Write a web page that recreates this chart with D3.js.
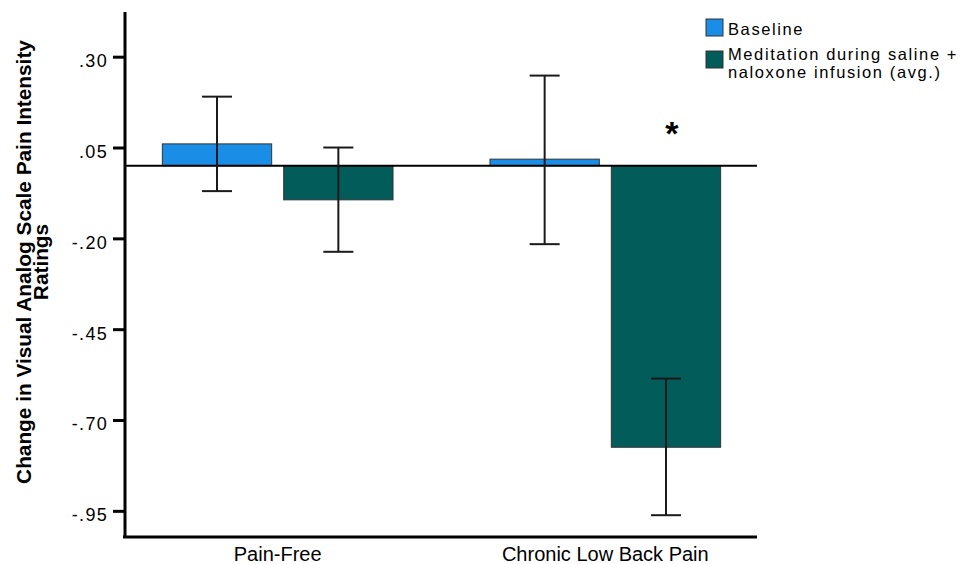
<!DOCTYPE html>
<html>
<head>
<meta charset="utf-8">
<script src="https://cdn.jsdelivr.net/npm/d3@7"></script>
<style>
  body { margin: 0; background: #fff; }
  svg { display: block; font-family: 'Liberation Sans', Arial, sans-serif; }
</style>
</head>
<body>
<script>
const categories = ['Pain-Free', 'Chronic Low Back Pain']
const seriesNames = ['Baseline', 'Meditation during saline + naloxone infusion (avg.)']
const baselineMeans = [0.060, 0.018]
const baselineLow = [-0.070, -0.216]
const baselineHigh = [0.190, 0.248]
const meditationMeans = [-0.094, -0.775]
const meditationLow = [-0.237, -0.962]
const meditationHigh = [0.050, -0.586]
const tickValues = [0.30, 0.05, -0.20, -0.45, -0.70, -0.95]
const tickLabels = ['.30', '.05', '-.20', '-.45', '-.70', '-.95']
const colors = ['#1a8de6', '#025c5a']

const d3 = window.d3

const width = 975
const height = 564

const rows = []
categories.forEach((c, i) => {
  rows.push({ cat: c, series: 0, mean: baselineMeans[i], lo: baselineLow[i], hi: baselineHigh[i] })
  rows.push({ cat: c, series: 1, mean: meditationMeans[i], lo: meditationLow[i], hi: meditationHigh[i] })
})

const xScale = d3.scaleBand().domain(categories).range([126, 757])
  .paddingInner(0.296).paddingOuter(0.111)
const xSub = d3.scaleBand().domain([0, 1]).range([0, xScale.bandwidth()])
  .paddingInner(0.099).paddingOuter(0)
const yScale = d3.scaleLinear().domain([-1.022, 0.423]).range([537, 12])

const svg = d3.select('body').append('svg')
  .attr('width', width)
  .attr('height', height)

// bars
svg.append('g').selectAll('rect')
  .data(rows)
  .join('rect')
  .attr('x', (d) => xScale(d.cat) + xSub(d.series))
  .attr('width', xSub.bandwidth())
  .attr('y', (d) => yScale(Math.max(0, d.mean)))
  .attr('height', (d) => Math.abs(yScale(d.mean) - yScale(0)))
  .attr('fill', (d) => colors[d.series])
  .attr('stroke', '#333')
  .attr('stroke-width', 1)

// zero line
svg.append('line')
  .attr('x1', 126).attr('x2', 757)
  .attr('y1', yScale(0)).attr('y2', yScale(0))
  .attr('stroke', '#000').attr('stroke-width', 2)

// error bars
const err = svg.append('g').attr('stroke', '#1a1a1a').attr('stroke-width', 2)
rows.forEach((d) => {
  const cx = xScale(d.cat) + xSub(d.series) + xSub.bandwidth() / 2
  err.append('line').attr('x1', cx).attr('x2', cx)
    .attr('y1', yScale(d.hi)).attr('y2', yScale(d.lo))
  err.append('line').attr('x1', cx - 15).attr('x2', cx + 15)
    .attr('y1', yScale(d.hi)).attr('y2', yScale(d.hi))
  err.append('line').attr('x1', cx - 15).attr('x2', cx + 15)
    .attr('y1', yScale(d.lo)).attr('y2', yScale(d.lo))
})

// significance marker
svg.append('text')
  .attr('x', xScale(categories[1]) + xSub(1) + xSub.bandwidth() / 2 + 6)
  .attr('y', 145)
  .attr('text-anchor', 'middle')
  .style('font-size', '34px')
  .style('font-weight', 'bold')
  .text('*')

// y axis
const yAxis = svg.append('g')
  .attr('transform', 'translate(125,0)')
  .call(d3.axisLeft(yScale).tickValues(tickValues).tickSize(12).tickPadding(5)
    .tickFormat((d, i) => tickLabels[i]))
yAxis.select('.domain').remove()
yAxis.selectAll('.tick line').attr('stroke', '#000').attr('stroke-width', 3)
yAxis.selectAll('.tick text')
  .attr('fill', '#000')
  .attr('dy', '0.55em')
  .style('font-size', '18px')
  .style('letter-spacing', '1.3px')
  .style('font-family', "'Liberation Sans', Arial, sans-serif")

svg.append('line')
  .attr('x1', 125).attr('x2', 125).attr('y1', 12).attr('y2', 538)
  .attr('stroke', '#000').attr('stroke-width', 3)

// x axis
const xAxis = svg.append('g')
  .attr('transform', 'translate(0,537)')
  .call(d3.axisBottom(xScale).tickSize(0).tickPadding(10))
xAxis.select('.domain').remove()
xAxis.selectAll('.tick text')
  .attr('fill', '#000')
  .style('font-size', '20px')
  .style('font-family', "'Liberation Sans', Arial, sans-serif")

svg.append('line')
  .attr('x1', 123).attr('x2', 757).attr('y1', 537).attr('y2', 537)
  .attr('stroke', '#000').attr('stroke-width', 3)

// y label
const yLabel = svg.append('text')
  .attr('transform', 'translate(31,262) rotate(-90)')
  .attr('text-anchor', 'middle')
  .style('font-size', '20.8px')
  .style('font-weight', 'bold')
yLabel.append('tspan').attr('x', 0).attr('y', 0).text('Change in Visual Analog Scale Pain Intensity')
yLabel.append('tspan').attr('x', 0).attr('y', 17).text('Ratings')

// legend
const legend = svg.append('g')
const legendItems = [
  { color: colors[0], y: 19, lines: [seriesNames[0]] },
  { color: colors[1], y: 51, lines: ['Meditation during saline +', 'naloxone infusion (avg.)'] }
]
legendItems.forEach((item) => {
  legend.append('rect')
    .attr('x', 706).attr('y', item.y).attr('width', 17).attr('height', 17)
    .attr('fill', item.color).attr('stroke', '#333').attr('stroke-width', 1)
  const t = legend.append('text')
    .style('font-size', '16.5px')
    .style('letter-spacing', '1.6px')
  item.lines.forEach((line, i) => {
    t.append('tspan').attr('x', 728).attr('y', item.y + 16 + i * 18 - (item.lines.length > 1 ? 7 : 0)).text(line)
  })
})
</script>
</body>
</html>
